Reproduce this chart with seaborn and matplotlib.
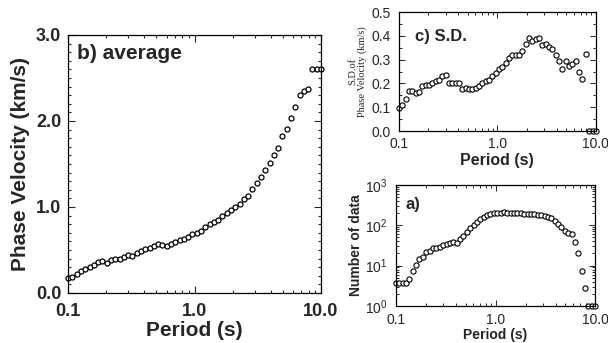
import numpy as np
import pandas as pd
import matplotlib
matplotlib.use("Agg")
import matplotlib.pyplot as plt
import matplotlib.ticker as mticker
import seaborn as sns

# Period grid (s), shared by all panels
period = [0.1000, 0.1081, 0.1169, 0.1264, 0.1367, 0.1478, 0.1598, 0.1727, 0.1868, 0.2019,
          0.2183, 0.2360, 0.2552, 0.2759, 0.2983, 0.3225, 0.3487, 0.3770, 0.4076, 0.4407,
          0.4765, 0.5152, 0.5570, 0.6022, 0.6511, 0.7040, 0.7611, 0.8229, 0.8897, 0.9617,
          1.0398, 1.1243, 1.2155, 1.3142, 1.4209, 1.5362, 1.6609, 1.7958, 1.9415, 2.0991,
          2.2696, 2.4538, 2.6530, 2.8684, 3.1013, 3.3530, 3.6252, 3.9195, 4.2377, 4.5817,
          4.9537, 5.3558, 5.7906, 6.2607, 6.7690, 7.3185, 7.9126, 8.5549, 9.2494, 10.0]

# b) average phase velocity (km/s)
avg_velocity = [0.17, 0.19, 0.22, 0.25, 0.28, 0.30, 0.33, 0.36, 0.37, 0.345,
                0.38, 0.395, 0.40, 0.42, 0.44, 0.43, 0.46, 0.49, 0.51, 0.52,
                0.55, 0.57, 0.56, 0.55, 0.57, 0.59, 0.61, 0.63, 0.655, 0.68,
                0.70, 0.72, 0.77, 0.80, 0.825, 0.85, 0.89, 0.93, 0.965, 1.00,
                1.04, 1.09, 1.13, 1.21, 1.28, 1.35, 1.43, 1.51, 1.60, 1.69,
                1.83, 1.91, 2.03, 2.16, 2.30, 2.35, 2.37, 2.60, 2.60, 2.60]

# c) standard deviation of phase velocity (km/s)
sd_velocity = [0.095, 0.11, 0.135, 0.17, 0.17, 0.16, 0.165, 0.19, 0.195, 0.195,
               0.20, 0.21, 0.215, 0.23, 0.235, 0.20, 0.20, 0.20, 0.20, 0.175,
               0.18, 0.175, 0.175, 0.18, 0.19, 0.20, 0.21, 0.215, 0.23, 0.245,
               0.26, 0.27, 0.285, 0.305, 0.32, 0.32, 0.32, 0.335, 0.365, 0.39,
               0.38, 0.385, 0.39, 0.36, 0.365, 0.355, 0.345, 0.32, 0.295, 0.26,
               0.295, 0.275, 0.28, 0.295, 0.25, 0.22, 0.325, 0.0, 0.0, 0.0]

# a) number of data
n_data = [3.7, 3.7, 3.7, 3.7, 4.6, 7.4, 10.4, 14.4, 16.2, 21.4,
          23.5, 27, 28, 29.7, 31.5, 34, 37.2, 38, 37, 45,
          54.5, 67, 85, 102, 121, 144, 164, 181, 192, 199,
          199, 199, 207, 199, 199, 199, 199, 199, 192, 192,
          187, 187, 181, 176, 171, 164, 150, 124, 107, 90,
          74, 66, 60, 38, 21, 7.4, 2.75, 1.0, 1.0, 1.0]

x_ticks = [0.1, 1.0, 10.0]
x_tick_labels = ["0.1", "1.0", "10.0"]

df = pd.DataFrame({"period": period, "avg": avg_velocity,
                   "sd": sd_velocity, "n": n_data})

sns.set_style("ticks")
plt.rcParams["font.family"] = ["Liberation Sans", "DejaVu Sans"]
plt.rcParams["xtick.direction"] = "in"
plt.rcParams["ytick.direction"] = "in"

fig = plt.figure(figsize=(6.08, 3.43), dpi=100)
ax_b = fig.add_axes([0.112, 0.146, 0.416, 0.752])
ax_c = fig.add_axes([0.656, 0.618, 0.324, 0.347])
ax_a = fig.add_axes([0.651, 0.108, 0.328, 0.353])

mk = dict(marker="o", facecolor="white", edgecolor="black", legend=False, clip_on=False)

# ---- b) average ----
sns.scatterplot(data=df, x="period", y="avg", ax=ax_b, s=13, linewidth=0.9, **mk)
ax_b.set_xscale("log")
ax_b.set_xlim(0.1, 10)
ax_b.set_ylim(0, 3.0)
ax_b.set_xticks(x_ticks)
ax_b.set_xticklabels(x_tick_labels)
ax_b.set_yticks([0, 1, 2, 3])
ax_b.set_yticklabels(["0.0", "1.0", "2.0", "3.0"])
ax_b.yaxis.set_minor_locator(mticker.MultipleLocator(0.1))
ax_b.tick_params(which="both", top=True, right=True, labelsize=13, width=0.8)
ax_b.tick_params(which="major", length=5)
ax_b.tick_params(axis="x", which="major", pad=7)
ax_b.tick_params(axis="y", which="major", pad=5)
ax_b.tick_params(which="minor", length=2.5)
for lab in ax_b.get_xticklabels() + ax_b.get_yticklabels():
    lab.set_fontweight("bold")
ax_b.set_xlabel("Period (s)", fontsize=15, fontweight="bold", labelpad=1)
ax_b.set_ylabel("Phase Velocity (km/s)", fontsize=15, fontweight="bold", labelpad=4)
ax_b.text(0.035, 0.965, "b) average", transform=ax_b.transAxes, fontsize=15,
          fontweight="bold", va="top", ha="left")

# ---- c) S.D. ----
sns.scatterplot(data=df, x="period", y="sd", ax=ax_c, s=14, linewidth=0.8, **mk)
ax_c.set_xscale("log")
ax_c.set_xlim(0.1, 10)
ax_c.set_ylim(0, 0.5)
ax_c.set_xticks(x_ticks)
ax_c.set_xticklabels(x_tick_labels)
ax_c.set_yticks([0, 0.1, 0.2, 0.3, 0.4, 0.5])
ax_c.set_yticklabels(["0.0", "0.1", "0.2", "0.3", "0.4", "0.5"])
ax_c.yaxis.set_minor_locator(mticker.MultipleLocator(0.05))
ax_c.tick_params(which="both", top=True, right=True, labelsize=10, width=0.7)
ax_c.tick_params(which="major", length=4)
ax_c.tick_params(axis="x", which="major", pad=4)
ax_c.tick_params(axis="y", which="major", pad=6)
ax_c.tick_params(which="minor", length=2)
ax_c.set_xlabel("Period (s)", fontsize=11.5, fontweight="bold", labelpad=2)
ax_c.set_ylabel("S.D.of\nPhase Velocity (km/s)", fontsize=7.5,
                family=["Liberation Serif", "DejaVu Serif"], labelpad=3, linespacing=1.0)
ax_c.text(0.08, 0.86, "c) S.D.", transform=ax_c.transAxes, fontsize=12,
          fontweight="bold", va="top", ha="left")

# ---- a) number of data ----
sns.scatterplot(data=df, x="period", y="n", ax=ax_a, s=14, linewidth=0.8, **mk)
ax_a.set_xscale("log")
ax_a.set_yscale("log")
ax_a.set_xlim(0.1, 10)
ax_a.set_ylim(1, 1000)
ax_a.set_xticks(x_ticks)
ax_a.set_xticklabels(x_tick_labels)
ax_a.tick_params(which="both", top=True, right=True, labelsize=10, width=0.7)
ax_a.tick_params(which="major", length=4)
ax_a.tick_params(axis="x", which="major", pad=5)
ax_a.tick_params(axis="y", which="major", pad=6)
ax_a.tick_params(which="minor", length=2)
ax_a.set_xlabel("Period (s)", fontsize=10, fontweight="bold", labelpad=1)
ax_a.set_ylabel("Number of data", fontsize=10, fontweight="bold", labelpad=1)
ax_a.text(0.05, 0.9, "a)", transform=ax_a.transAxes, fontsize=12,
          fontweight="bold", va="top", ha="left")

for ax in (ax_a, ax_b, ax_c):
    for sp in ax.spines.values():
        sp.set_linewidth(0.9)
        sp.set_color("black")

fig.savefig("out.png", dpi=100)
